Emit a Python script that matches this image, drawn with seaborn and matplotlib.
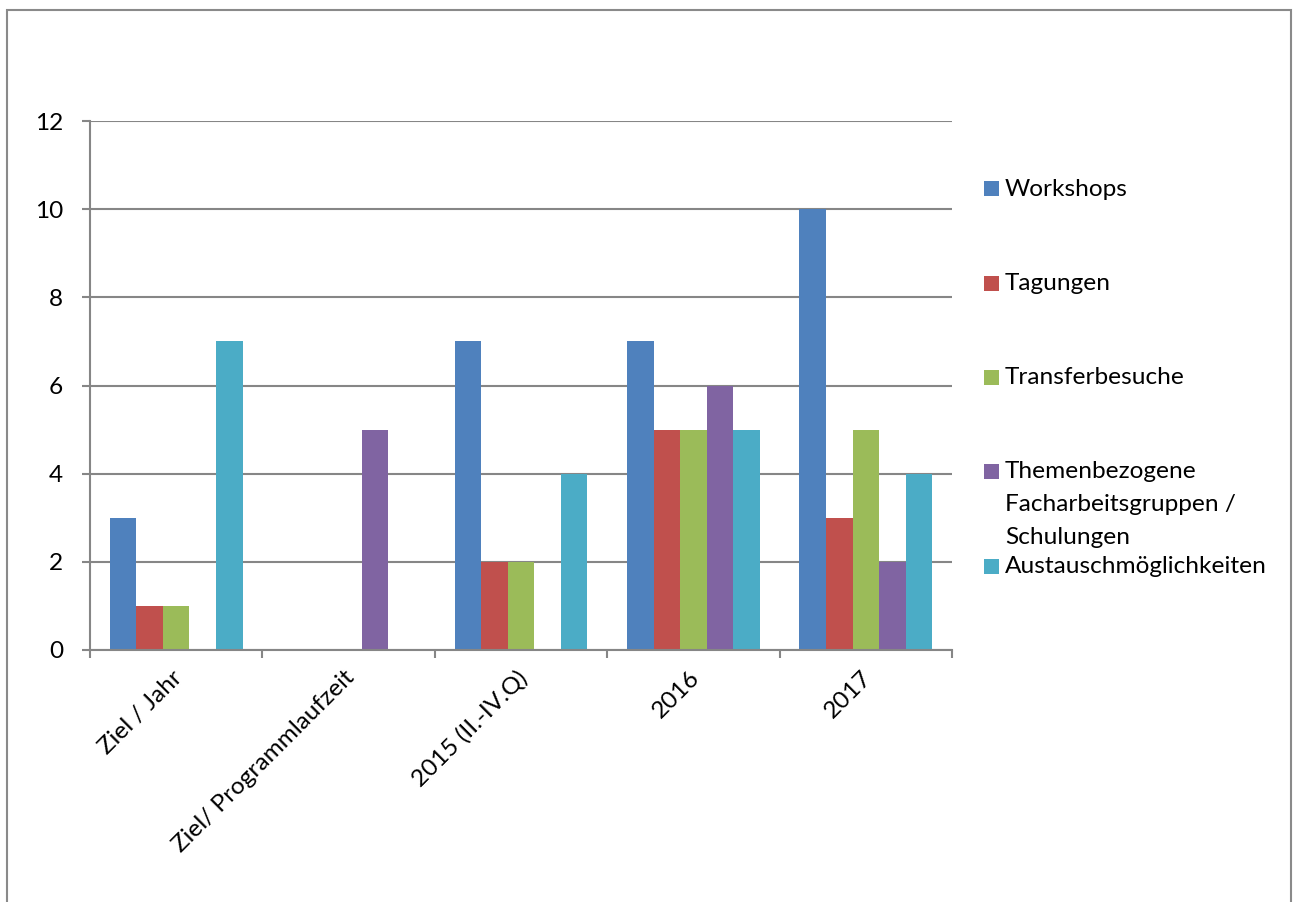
import matplotlib
matplotlib.use("Agg")
import matplotlib.pyplot as plt
import matplotlib.transforms as mtransforms
import seaborn as sns
import pandas as pd
from matplotlib.patches import Rectangle
from matplotlib.ticker import FixedLocator

categories = ["Ziel / Jahr", "Ziel/ Programmlaufzeit", "2015 (II.-IV.Q)", "2016", "2017"]
series = ["Workshops", "Tagungen", "Transferbesuche",
          "Themenbezogene\nFacharbeitsgruppen /\nSchulungen", "Austauschmöglichkeiten"]
workshops = [3, 0, 7, 7, 10]
tagungen = [1, 0, 2, 5, 3]
transferbesuche = [1, 0, 2, 5, 5]
themen = [0, 5, 0, 6, 2]
austausch = [7, 0, 4, 5, 4]
colors = ["#4F81BD", "#C0504D", "#9BBB59", "#8064A2", "#4BACC6"]
yticks = [0, 2, 4, 6, 8, 10, 12]

sns.set_theme(style="white")
plt.rcParams["font.family"] = ["Lato", "DejaVu Sans"]
FS = 17.6

rows = []
for s, vals in zip(series, [workshops, tagungen, transferbesuche, themen, austausch]):
    for c, v in zip(categories, vals):
        rows.append({"Kategorie": c, "Serie": s, "Wert": v})
df = pd.DataFrame(rows)

W, H = 1293, 902
fig = plt.figure(figsize=(W / 100, H / 100), dpi=100)
ax = fig.add_axes([90 / W, 1 - 650 / H, (952 - 90) / W, (650 - 121) / H])

sns.barplot(data=df, x="Kategorie", y="Wert", hue="Serie", order=categories,
            hue_order=series, palette=colors, width=5 / 6.5, linewidth=0,
            saturation=1, ax=ax, legend=False)

grey = "#868686"
ax.set_xlim(-0.5, len(categories) - 0.5)
ax.set_ylim(0, 12)
ax.set_yticks(yticks)
ax.set_yticklabels([str(t) for t in yticks], fontsize=FS, color="black")
ax.yaxis.grid(True, color=grey, linewidth=1.5)
ax.set_axisbelow(True)
for sp in ["top", "right"]:
    ax.spines[sp].set_visible(False)
for sp in ["left", "bottom"]:
    ax.spines[sp].set_color(grey)
    ax.spines[sp].set_linewidth(1.5)
ax.set_xlabel("")
ax.set_ylabel("")
ax.tick_params(axis="y", which="major", direction="out", length=6, width=1.5,
               color=grey, pad=13.5, left=True)
ax.tick_params(axis="x", which="major", length=0, pad=12)
ax.xaxis.set_minor_locator(FixedLocator([i - 0.5 for i in range(len(categories) + 1)]))
ax.tick_params(axis="x", which="minor", direction="out", length=6, width=1.5,
               color=grey, bottom=True)
offset = mtransforms.ScaledTranslation(-5 / 100, 0, fig.dpi_scale_trans)
for lab in ax.get_xticklabels():
    lab.set_rotation(45)
    lab.set_ha("right")
    lab.set_va("top")
    lab.set_rotation_mode("anchor")
    lab.set_fontsize(FS)
    lab.set_color("black")
    lab.set_transform(lab.get_transform() + offset)

# legend (marker next to the first line of each entry)
leg_y = [189, 283, 377, 471, 566]
line_h = 33
for s, c, y in zip(series, colors, leg_y):
    fig.patches.append(Rectangle((984 / W, 1 - (y + 7.5) / H), 15 / W, 15 / H,
                                 transform=fig.transFigure, facecolor=c,
                                 edgecolor="none"))
    for k, line in enumerate(s.split("\n")):
        fig.text(1005 / W, 1 - (y + 7 + k * line_h) / H, line, fontsize=FS,
                 va="baseline", ha="left", color="black")

# outer border
fig.patches.append(Rectangle((7 / W, -0.02), (1291 - 7) / W, 1.02 - 10 / H,
                             transform=fig.transFigure, facecolor="none",
                             edgecolor="#8a8a8a", linewidth=1.5))

fig.savefig("out.png", dpi=100)
